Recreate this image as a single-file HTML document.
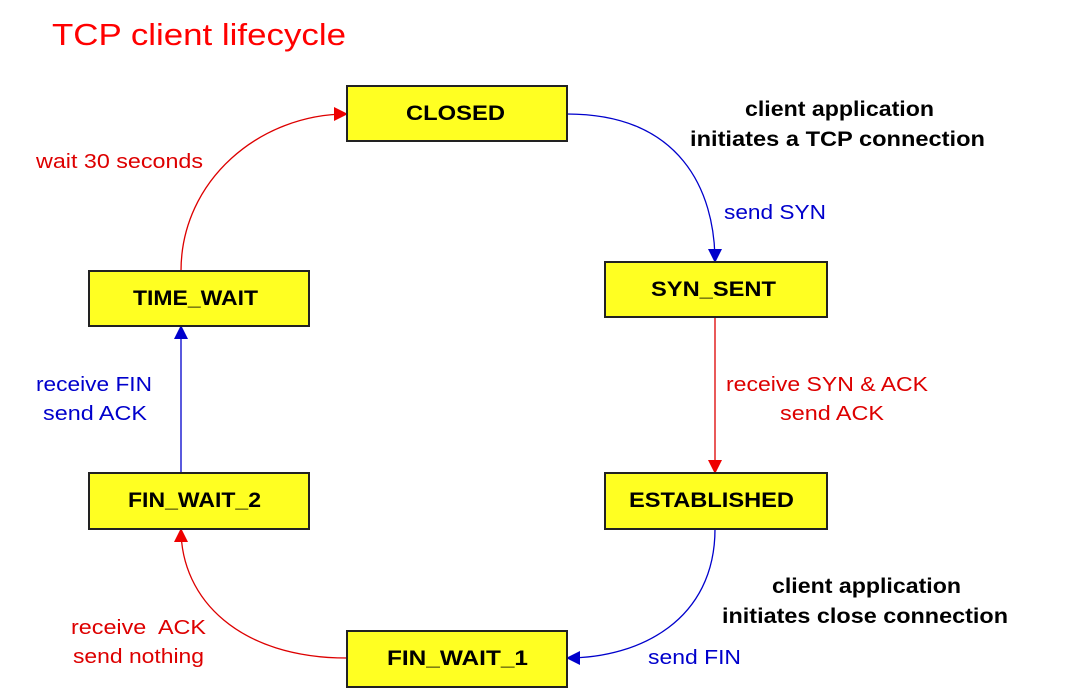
<!DOCTYPE html>
<html><head><meta charset="utf-8"><style>
html,body{margin:0;padding:0;background:#fff;}
svg{display:block;}
</style></head><body>
<svg width="1089" height="698" viewBox="0 0 1089 698" xmlns="http://www.w3.org/2000/svg" font-family="Liberation Sans, Arial, sans-serif">
<defs>
<marker id="ar2" markerWidth="14" markerHeight="14" refX="13" refY="7" orient="auto" markerUnits="userSpaceOnUse"><path d="M0,0 L14,7 L0,14 z" fill="#e00"/></marker>
<marker id="ab2" markerWidth="14" markerHeight="14" refX="13" refY="7" orient="auto" markerUnits="userSpaceOnUse"><path d="M0,0 L14,7 L0,14 z" fill="#00c"/></marker>
</defs>
<text x="52" y="45" font-size="31" fill="#f00" textLength="294" lengthAdjust="spacingAndGlyphs">TCP client lifecycle</text>
<g fill="none" stroke-width="1.3">
<path d="M567,114 C680,114 715,190 715,262" stroke="#00c" marker-end="url(#ab2)"/>
<path d="M715,317 L715,473" stroke="#d00" marker-end="url(#ar2)"/>
<path d="M715,529 C715,620 640,658 567,658" stroke="#00c" marker-end="url(#ab2)"/>
<path d="M347,658 C240,658 181,600 181,529" stroke="#d00" marker-end="url(#ar2)"/>
<path d="M181,473 L181,326" stroke="#00c" marker-end="url(#ab2)"/>
<path d="M181,271 C181,180 260,114 347,114" stroke="#d00" marker-end="url(#ar2)"/>
</g>
<g fill="#ffff22" stroke="#222" stroke-width="2">
<rect x="347" y="86" width="220" height="55"/>
<rect x="89" y="271" width="220" height="55"/>
<rect x="605" y="262" width="222" height="55"/>
<rect x="605" y="473" width="222" height="56"/>
<rect x="89" y="473" width="220" height="56"/>
<rect x="347" y="631" width="220" height="56"/>
</g>
<g font-size="21" font-weight="bold" fill="#000" lengthAdjust="spacingAndGlyphs">
<text x="406" y="120" textLength="99" lengthAdjust="spacingAndGlyphs">CLOSED</text>
<text x="133" y="305" textLength="125" lengthAdjust="spacingAndGlyphs">TIME_WAIT</text>
<text x="651" y="296" textLength="125" lengthAdjust="spacingAndGlyphs">SYN_SENT</text>
<text x="629" y="507" textLength="165" lengthAdjust="spacingAndGlyphs">ESTABLISHED</text>
<text x="128" y="507" textLength="133" lengthAdjust="spacingAndGlyphs">FIN_WAIT_2</text>
<text x="387" y="665" textLength="141" lengthAdjust="spacingAndGlyphs">FIN_WAIT_1</text>
</g>
<g font-size="21" font-weight="bold" fill="#000">
<text x="745" y="116" textLength="189" lengthAdjust="spacingAndGlyphs">client application</text>
<text x="690" y="146" textLength="295" lengthAdjust="spacingAndGlyphs">initiates a TCP connection</text>
<text x="772" y="593" textLength="189" lengthAdjust="spacingAndGlyphs">client application</text>
<text x="722" y="623" textLength="286" lengthAdjust="spacingAndGlyphs">initiates close connection</text>
</g>
<g font-size="20">
<text x="36" y="168" fill="#d00" textLength="167" lengthAdjust="spacingAndGlyphs">wait 30 seconds</text>
<text x="724" y="219" fill="#00c" textLength="102" lengthAdjust="spacingAndGlyphs">send SYN</text>
<text x="726" y="391" fill="#d00" textLength="202" lengthAdjust="spacingAndGlyphs">receive SYN &amp; ACK</text>
<text x="780" y="420" fill="#d00" textLength="104" lengthAdjust="spacingAndGlyphs">send ACK</text>
<text x="36" y="391" fill="#00c" textLength="116" lengthAdjust="spacingAndGlyphs">receive FIN</text>
<text x="43" y="420" fill="#00c" textLength="104" lengthAdjust="spacingAndGlyphs">send ACK</text>
<text x="71" y="634" fill="#d00" textLength="135" lengthAdjust="spacingAndGlyphs" xml:space="preserve">receive  ACK</text>
<text x="73" y="663" fill="#d00" textLength="131" lengthAdjust="spacingAndGlyphs">send nothing</text>
<text x="648" y="664" fill="#00c" textLength="93" lengthAdjust="spacingAndGlyphs">send FIN</text>
</g>
</svg>
</body></html>
